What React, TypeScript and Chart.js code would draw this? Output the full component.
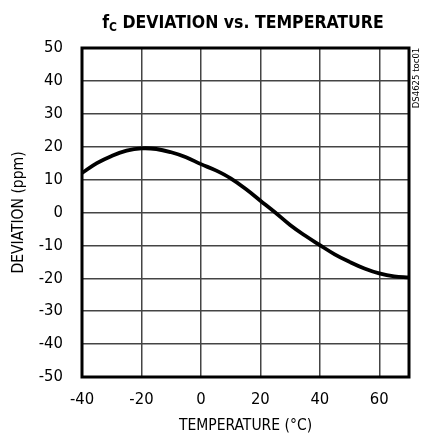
import React, { useEffect, useRef } from "react";
import { Chart, registerables } from "chart.js";

Chart.register(...registerables);

const temps = [-40, -35, -30, -25, -20, -15, -10, -5, 0, 5, 10, 15, 20, 25, 30, 35, 40, 45, 50, 55, 60, 65, 70];
const deviation = [12, 15, 17.2, 18.8, 19.5, 19.3, 18.3, 16.8, 14.7, 12.8, 10.4, 7.2, 3.6, 0, -3.8, -7, -9.9, -12.7, -15, -17, -18.5, -19.4, -19.7];
const xTicks = [-40, -20, 0, 20, 40, 60];
const yTicks = [-50, -40, -30, -20, -10, 0, 10, 20, 30, 40, 50];

const FONT = "'Liberation Sans Narrow', 'DejaVu Sans Condensed', 'Arial Narrow', sans-serif";

const decorPlugin = {
  id: "decor",
  afterDraw(chart: any) {
    const { ctx, chartArea } = chart;
    ctx.save();
    // frame
    ctx.strokeStyle = "#000";
    ctx.lineWidth = 3;
    ctx.strokeRect(chartArea.left, chartArea.top, chartArea.right - chartArea.left, chartArea.bottom - chartArea.top);
    // title with subscript
    const main = " DEVIATION vs. TEMPERATURE";
    ctx.fillStyle = "#000";
    ctx.textBaseline = "alphabetic";
    ctx.font = `bold 17.5px ${FONT}`;
    const wf = ctx.measureText("f").width;
    const wm = ctx.measureText(main).width;
    ctx.font = `bold 12px ${FONT}`;
    const wc = ctx.measureText("C").width;
    const total = wf + wc + wm;
    let x = 243 - total / 2;
    const base = 28;
    ctx.font = `bold 17.5px ${FONT}`;
    ctx.fillText("f", x, base);
    x += wf;
    ctx.font = `bold 12px ${FONT}`;
    ctx.fillText("C", x, base + 3);
    x += wc;
    ctx.font = `bold 17.5px ${FONT}`;
    ctx.fillText(main, x, base);
    // side code
    ctx.translate(417, 78);
    ctx.rotate(-Math.PI / 2);
    ctx.font = `9.5px ${FONT}`;
    ctx.textAlign = "center";
    ctx.textBaseline = "middle";
    ctx.fillText("DS4625 toc01", 0, 0);
    ctx.restore();
  },
};

export default function App() {
  const ref = useRef<HTMLCanvasElement>(null);
  useEffect(() => {
    if (!ref.current) return;
    const chart = new Chart(ref.current, {
      type: "line",
      data: {
        datasets: [
          {
            data: temps.map((t, i) => ({ x: t, y: deviation[i] })),
            borderColor: "#000",
            borderWidth: 3.8,
            pointRadius: 0,
            tension: 0.4,
            fill: false,
          },
        ],
      },
      options: {
        responsive: false,
        animation: false,
        layout: { padding: { top: 48, right: 16, left: 0, bottom: 0 } },
        plugins: { legend: { display: false }, tooltip: { enabled: false }, title: { display: false } },
        scales: {
          x: {
            type: "linear",
            min: -40,
            max: 70,
            afterBuildTicks: (s: any) => {
              s.ticks = xTicks.map((v) => ({ value: v }));
            },
            afterFit: (s: any) => {
              s.height = 60;
            },
            grid: { color: "#444", lineWidth: 1.5, drawTicks: false },
            border: { display: false },
            ticks: { color: "#000", font: { family: FONT, size: 16.5 }, padding: 13, maxRotation: 0 },
            title: {
              display: true,
              text: "TEMPERATURE (°C)",
              color: "#000",
              font: { family: FONT, size: 15.5 },
              padding: { top: 0, bottom: 2 },
            },
          },
          y: {
            type: "linear",
            min: -50,
            max: 50,
            afterBuildTicks: (s: any) => {
              s.ticks = yTicks.map((v) => ({ value: v }));
            },
            afterFit: (s: any) => {
              s.width = 82;
            },
            grid: { color: "#444", lineWidth: 1.5, drawTicks: false },
            border: { display: false },
            ticks: { color: "#000", font: { family: FONT, size: 16.5 }, padding: 19 },
            title: {
              display: true,
              text: "DEVIATION (ppm)",
              color: "#000",
              font: { family: FONT, size: 15.5 },
              padding: { top: 10, bottom: 0 },
            },
          },
        },
      },
      plugins: [decorPlugin],
    });
    return () => chart.destroy();
  }, []);
  return (
    <div style={{ position: "fixed", left: 0, top: 0, width: 425, height: 437, background: "#fff" }}>
      <canvas ref={ref} width={425} height={437} />
    </div>
  );
}
